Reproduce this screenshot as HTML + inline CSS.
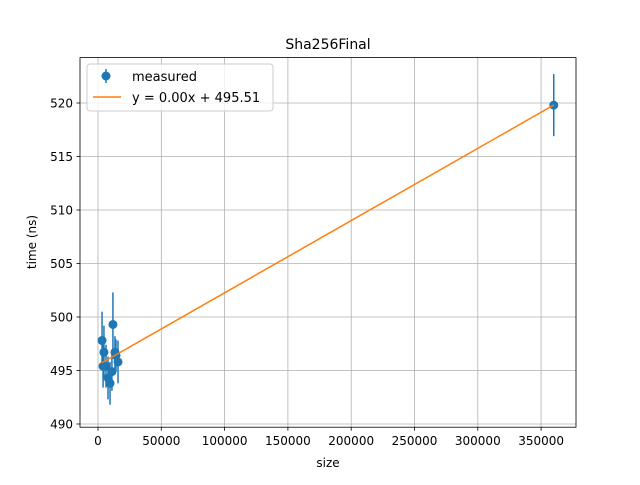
<!DOCTYPE html>
<html><head><meta charset="utf-8"><style>body{margin:0;background:#fff}svg{font-family:"DejaVu Sans","Liberation Sans",sans-serif}</style></head>
<body>
<svg id="chart" width="640" height="480" xmlns="http://www.w3.org/2000/svg">
<rect width="640" height="480" fill="#fff"/>
<text x="328" y="49" font-size="14" text-anchor="middle">Sha256Final</text>
<g id="grid"></g><g id="ticks"></g><g id="marks"></g>
<rect x="80" y="57.6" width="496" height="369.6" fill="none" stroke="#000" stroke-width="0.8"/>
<text x="328" y="467" font-size="12" text-anchor="middle">size</text>
<text transform="translate(36,242) rotate(-90)" font-size="12" text-anchor="middle">time (ns)</text>
<g>
<rect x="87" y="64" width="186" height="47" rx="3" fill="#fff" fill-opacity="0.8" stroke="#ccc"/>
<line x1="106" y1="69" x2="106" y2="83" stroke="#1f77b4" stroke-width="1.5"/>
<circle cx="106" cy="76" r="4.5" fill="#1f77b4"/>
<text x="132" y="81" font-size="13">measured</text>
<line x1="93" y1="97" x2="121" y2="97" stroke="#ff7f0e" stroke-width="1.5"/>
<text x="132" y="102" font-size="13">y = 0.00x + 495.51</text>
</g>
</svg>
<script>
const sizes=[3200,4700,4000,6300,7900,9500,11800,13400,14200,15800,11000,360000];
const times=[497.8,496.7,495.4,495.4,494.3,493.8,499.3,496.7,496.4,495.8,494.9,519.8];
const errs=[2.7,2.5,2.0,2.0,2.0,2.0,3.0,1.5,1.5,2.0,1.8,2.9];
const slope=0.0000675, intercept=495.51;
const xTicks=[0,50000,100000,150000,200000,250000,300000,350000];
const yTicks=[490,495,500,505,510,515,520];
const NS="http://www.w3.org/2000/svg";
const X=v=>98+v*0.001266, Y=v=>424-(v-490)*10.7;
function mk(p,t,a){const e=document.createElementNS(NS,t);for(const k in a)e.setAttribute(k,a[k]);document.getElementById(p).appendChild(e);return e;}
xTicks.forEach(t=>{const x=X(t);
const g=mk('grid','line',{x1:x,x2:x,y1:57.6,y2:427.2,stroke:'#b0b0b0','stroke-width':0.8});


mk('ticks','line',{x1:x,x2:x,y1:427.2,y2:430.7,stroke:'#000','stroke-width':0.8});
const l=mk('ticks','text',{x:x,y:445,'font-size':12,'text-anchor':'middle'});l.textContent=t;

});
yTicks.forEach(t=>{const y=Y(t);
const g=mk('grid','line',{x1:80,x2:576,y1:y,y2:y,stroke:'#b0b0b0','stroke-width':0.8});


mk('ticks','line',{x1:76.5,x2:80,y1:y,y2:y,stroke:'#000','stroke-width':0.8});
const l=mk('ticks','text',{x:73,y:y+4.5,'font-size':12,'text-anchor':'end'});l.textContent=t;

});
sizes.forEach((s,i)=>{
const e=mk('marks','line',{x1:X(s),x2:X(s),y1:Y(times[i]-errs[i]),y2:Y(times[i]+errs[i]),stroke:'#1f77b4','stroke-width':1.5});


const c=mk('marks','circle',{cx:X(s),cy:Y(times[i]),r:4.5,fill:'#1f77b4'});

});
const mn=Math.min(...sizes),mx=Math.max(...sizes);
const f=mk('marks','line',{x1:X(mn),y1:Y(slope*mn+intercept),x2:X(mx),y2:Y(slope*mx+intercept),stroke:'#ff7f0e','stroke-width':1.5});


</script>
</body></html>
